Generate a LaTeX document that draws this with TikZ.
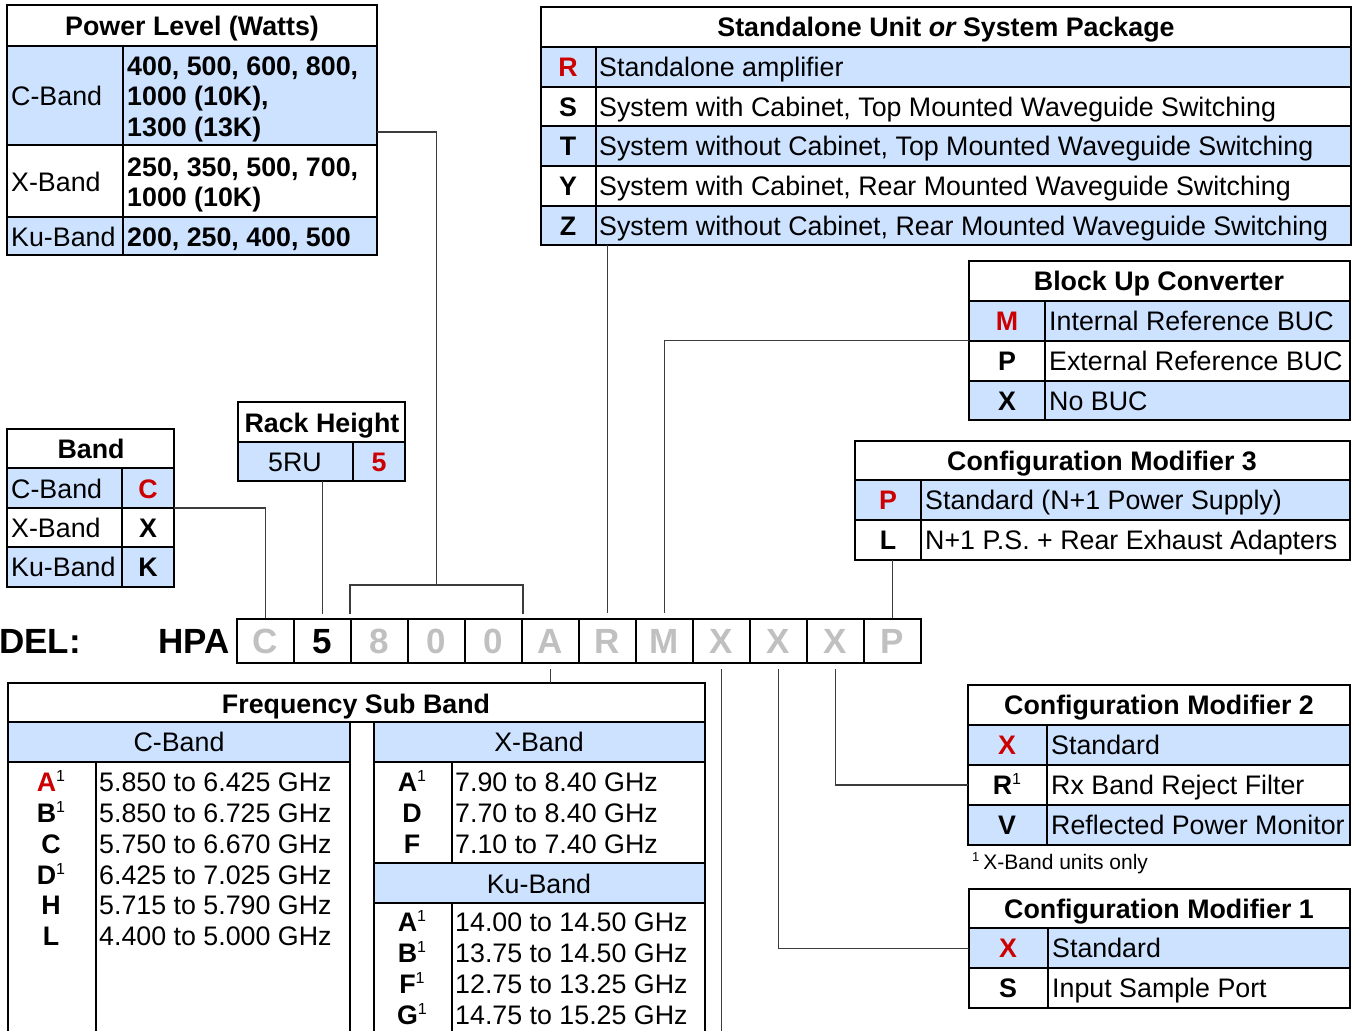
\documentclass[tikz,border=0pt]{standalone}
\usepackage{fontspec}
\setmainfont{Liberation Sans}
\usetikzlibrary{calc}
\definecolor{bl}{RGB}{204,226,255}
\definecolor{rd}{RGB}{204,0,0}
\definecolor{gy}{RGB}{192,192,192}
\definecolor{cn}{RGB}{60,60,60}
\newcommand\fs{\fontsize{26.8}{31}\selectfont}
\newcommand\fsb{\fontsize{35}{40}\selectfont\bfseries}
\newcommand\supo{\raisebox{10pt}{\fontsize{16}{16}\selectfont\mdseries 1}}
\begin{document}
\begin{tikzpicture}[x=1pt,y=-1pt,
  tl/.style={line width=2.2pt, draw=black},
  con/.style={line width=1.5pt, draw=cn},
  frm/.style 2 args={draw=black, line width=2.4pt, anchor=north west, minimum width=#1pt, minimum height=#2pt, inner sep=0pt, outer sep=0pt},
  tx/.style={inner sep=0pt, anchor=base west, font=\fs},
  tc/.style={inner sep=0pt, anchor=base, font=\fs},
  tb/.style={inner sep=0pt, anchor=base, font=\fs\bfseries},
  tbw/.style={inner sep=0pt, anchor=base west, font=\fs\bfseries},
  cell/.style={draw=black, line width=2.2pt, minimum width=57pt, minimum height=44pt, inner sep=0pt, text height=25pt, text depth=0pt, font=\fsb, text=gy}
]
\useasboundingbox (0,0) rectangle (1353,1031);
\clip (0,0) rectangle (1353,1031);

% ---------- Power Level ----------
\fill[bl] (7,46) rectangle (377,145);
\fill[bl] (7,217) rectangle (377,255);
\draw[tl] (7,46) -- (377,46) (7,145) -- (377,145) (7,217) -- (377,217) (123,46) -- (123,255);
\node[frm={370}{250}] (pw) at (7,5) {};
\node[tb] (pwt) at (192,35.5) {Power Level (Watts)};
\node[tx] (pwc) at (11,105.5) {C-Band};
\node[tbw] (pwc1) at (127,75.5) {400, 500, 600, 800,};
\node[tbw] (pwc2) at (127,105.5) {1000 (10K),};
\node[tbw] (pwc3) at (127,136.5) {1300 (13K)};
\node[tx] (pwx) at (11,191.5) {X-Band};
\node[tbw] (pwx1) at (127,176.5) {250, 350, 500, 700,};
\node[tbw] (pwx2) at (127,206.5) {1000 (10K)};
\node[tx] (pwk) at (11,246.5) {Ku-Band};
\node[tbw] (pwk1) at (127,246.5) {200, 250, 400, 500};

% ---------- Band ----------
\fill[bl] (7,468) rectangle (174,508);
\fill[bl] (7,547) rectangle (174,587);
\draw[tl] (7,468) -- (174,468) (7,508) -- (174,508) (7,547) -- (174,547) (122,468) -- (122,587);
\node[frm={167}{158}] (band) at (7,429) {};
\node[tb] (bdt) at (91,458.5) {Band};
\node[tx] (bd1) at (11,498.5) {C-Band};
\node[tb, text=rd] (bd1c) at (148,498.5) {C};
\node[tx] (bd2) at (11,537.5) {X-Band};
\node[tb] (bd2c) at (148,537.5) {X};
\node[tx] (bd3) at (11,576.5) {Ku-Band};
\node[tb] (bd3c) at (148,576.5) {K};

% ---------- Rack Height ----------
\fill[bl] (238,442) rectangle (405,481);
\draw[tl] (238,442) -- (405,442) (353,442) -- (353,481);
\node[frm={167}{79}] (rack) at (238,402) {};
\node[tb] (rkt) at (322,432.5) {Rack Height};
\node[tc] (rk1) at (295,471.5) {5RU};
\node[tb, text=rd] (rk1c) at (379,471.5) {5};

% ---------- Standalone ----------
\fill[bl] (541,47) rectangle (1351,87);
\fill[bl] (541,126) rectangle (1351,166);
\fill[bl] (541,206) rectangle (1351,245);
\draw[tl] (541,47) -- (1351,47) (541,87) -- (1351,87) (541,126) -- (1351,126) (541,166) -- (1351,166) (541,206) -- (1351,206) (596,47) -- (596,245);
\node[frm={810}{238}] (sa) at (541,7) {};
\node[tb] (sat) at (946,36.5) {Standalone Unit {\itshape or} System Package};
\node[tb, text=rd] (saR) at (568,76.5) {R};
\node[tx] (saRd) at (599,76.5) {Standalone amplifier};
\node[tb] (saS) at (568,116) {S};
\node[tx] (saSd) at (599,116) {System with Cabinet, Top Mounted Waveguide Switching};
\node[tb] (saT) at (568,155.5) {T};
\node[tx] (saTd) at (599,155.5) {System without Cabinet, Top Mounted Waveguide Switching};
\node[tb] (saY) at (568,195.5) {Y};
\node[tx] (saYd) at (599,195.5) {System with Cabinet, Rear Mounted Waveguide Switching};
\node[tb] (saZ) at (568,235) {Z};
\node[tx] (saZd) at (599,235) {System without Cabinet, Rear Mounted Waveguide Switching};

% ---------- Block Up Converter ----------
\fill[bl] (969,301) rectangle (1350,341);
\fill[bl] (969,381) rectangle (1350,420);
\draw[tl] (969,301) -- (1350,301) (969,341) -- (1350,341) (969,381) -- (1350,381) (1045,301) -- (1045,420);
\node[frm={381}{159}] (buc) at (969,261) {};
\node[tb] (buct) at (1159,290.5) {Block Up Converter};
\node[tb, text=rd] (bucM) at (1007,330.5) {M};
\node[tx] (bucMd) at (1049,330.5) {Internal Reference BUC};
\node[tb] (bucP) at (1007,370.5) {P};
\node[tx] (bucPd) at (1049,370.5) {External Reference BUC};
\node[tb] (bucX) at (1007,410) {X};
\node[tx] (bucXd) at (1049,410) {No BUC};

% ---------- Configuration Modifier 3 ----------
\fill[bl] (855,480) rectangle (1350,520);
\draw[tl] (855,480) -- (1350,480) (855,520) -- (1350,520) (921,480) -- (921,560);
\node[frm={495}{119}] (cm3) at (855,441) {};
\node[tb] (cm3t) at (1102,470.5) {Configuration Modifier 3};
\node[tb, text=rd] (cm3P) at (888,509.5) {P};
\node[tx] (cm3Pd) at (925,509.5) {Standard (N+1 Power Supply)};
\node[tb] (cm3L) at (888,549.5) {L};
\node[tx] (cm3Ld) at (925,549.5) {N+1 P.S. + Rear Exhaust Adapters};

% ---------- Configuration Modifier 2 ----------
\fill[bl] (968,725) rectangle (1350,765);
\fill[bl] (968,805) rectangle (1350,845);
\draw[tl] (968,725) -- (1350,725) (968,765) -- (1350,765) (968,805) -- (1350,805) (1047,725) -- (1047,845);
\node[frm={382}{160}] (cm2) at (968,685) {};
\node[tb] (cm2t) at (1159,714.5) {Configuration Modifier 2};
\node[tb, text=rd] (cm2X) at (1007,754.5) {X};
\node[tx] (cm2Xd) at (1051,754.5) {Standard};
\node[tb] (cm2R) at (1007,794.5) {R\supo};
\node[tx] (cm2Rd) at (1051,794.5) {Rx Band Reject Filter};
\node[tb] (cm2V) at (1007,834.5) {V};
\node[tx] (cm2Vd) at (1051,834.5) {Reflected Power Monitor};
\node[inner sep=0pt, anchor=base west, font=\fontsize{21}{24}\selectfont] (fn) at (972,869.5) {\raisebox{8pt}{\fontsize{13}{13}\selectfont 1}\hspace{4pt}X-Band units only};

% ---------- Configuration Modifier 1 ----------
\fill[bl] (969,928) rectangle (1350,968);
\draw[tl] (969,928) -- (1350,928) (969,968) -- (1350,968) (1048,928) -- (1048,1008);
\node[frm={381}{119}] (cm1) at (969,889) {};
\node[tb] (cm1t) at (1159,918.5) {Configuration Modifier 1};
\node[tb, text=rd] (cm1X) at (1008,957.5) {X};
\node[tx] (cm1Xd) at (1052,957.5) {Standard};
\node[tb] (cm1S) at (1008,997.5) {S};
\node[tx] (cm1Sd) at (1052,997.5) {Input Sample Port};

% ---------- Frequency Sub Band ----------
\fill[bl] (8,722) rectangle (350,762);
\fill[bl] (374,722) rectangle (705,762);
\fill[bl] (374,863) rectangle (705,903);
\draw[tl] (8,722) rectangle (350,1050) (8,762) -- (350,762) (96,762) -- (96,1050);
\draw[tl] (374,722) rectangle (705,1050) (374,762) -- (705,762) (374,863) -- (705,863) (374,903) -- (705,903) (452,762) -- (452,863) (452,903) -- (452,1050);
\node[frm={697}{39}] (freq) at (8,683) {};
\node[tb] (fqt) at (356,713.5) {Frequency Sub Band};
\node[tc] (fqc) at (179,751.5) {C-Band};
\node[tc] (fqx) at (539,751.5) {X-Band};
\node[tc] (fqk) at (539,893.5) {Ku-Band};
% C-Band rows
\node[tb] (c1) at (51,791.5) {{\color{rd}A}\supo};
\node[tx] (c1d) at (99,791.5) {5.850 to 6.425 GHz};
\node[tb] (c2) at (51,822.5) {B\supo};
\node[tx] (c2d) at (99,822.5) {5.850 to 6.725 GHz};
\node[tb] (c3) at (51,853.5) {C};
\node[tx] (c3d) at (99,853.5) {5.750 to 6.670 GHz};
\node[tb] (c4) at (51,884.5) {D\supo};
\node[tx] (c4d) at (99,884.5) {6.425 to 7.025 GHz};
\node[tb] (c5) at (51,914.5) {H};
\node[tx] (c5d) at (99,914.5) {5.715 to 5.790 GHz};
\node[tb] (c6) at (51,945.5) {L};
\node[tx] (c6d) at (99,945.5) {4.400 to 5.000 GHz};
% X-Band rows
\node[tb] (x1) at (412,791.5) {A\supo};
\node[tx] (x1d) at (455,791.5) {7.90 to 8.40 GHz};
\node[tb] (x2) at (412,822.5) {D};
\node[tx] (x2d) at (455,822.5) {7.70 to 8.40 GHz};
\node[tb] (x3) at (412,853.5) {F};
\node[tx] (x3d) at (455,853.5) {7.10 to 7.40 GHz};
% Ku-Band rows
\node[tb] (k1) at (412,931.5) {A\supo};
\node[tx] (k1d) at (455,931.5) {14.00 to 14.50 GHz};
\node[tb] (k2) at (412,962.5) {B\supo};
\node[tx] (k2d) at (455,962.5) {13.75 to 14.50 GHz};
\node[tb] (k3) at (412,993.5) {F\supo};
\node[tx] (k3d) at (455,993.5) {12.75 to 13.25 GHz};
\node[tb] (k4) at (412,1024.5) {G\supo};
\node[tx] (k4d) at (455,1024.5) {14.75 to 15.25 GHz};

% ---------- Model row ----------
\node[inner sep=0pt, anchor=base east, font=\fsb] (model) at (81,653.5) {MODEL:};
\node[inner sep=0pt, anchor=base east, font=\fsb] (hpa) at (229.5,653.5) {HPA};
\node[cell] (m1) at (265.5,641) {C};
\node[cell, text=black] (m2) at (322.5,641) {5};
\node[cell] (m3) at (379.5,641) {8};
\node[cell] (m4) at (436.5,641) {0};
\node[cell] (m5) at (493.5,641) {0};
\node[cell] (m6) at (550.5,641) {A};
\node[cell] (m7) at (607.5,641) {R};
\node[cell] (m8) at (664.5,641) {M};
\node[cell] (m9) at (721.5,641) {X};
\node[cell] (m10) at (778.5,641) {X};
\node[cell] (m11) at (835.5,641) {X};
\node[cell] (m12) at (892.5,641) {P};

% ---------- Connectors ----------
\coordinate (bandC) at (174,508);
\coordinate (pwo) at (377,132);
\coordinate (brkL) at ($(m3.north west)+(0,-33)$);
\coordinate (brkR) at ($(m5.north east)+(0,-33)$);
\coordinate (brkM) at ($(brkL)!0.5!(brkR)$);
\coordinate (cm2in) at (968,785);
\coordinate (xend) at (721.5,1050);

\draw[con] (bandC) -| (m1.north);
\draw[con] (rack.south -| m2.north) -- ($(m2.north)+(0,-4)$);
\draw[con] (pwo) -| (brkM);
\draw[con] ($(m3.north west)+(0,-4)$) -- (brkL) -- (brkR) -- ($(m5.north east)+(0,-4)$);
\draw[con] (sa.south -| m7.north) -- ($(m7.north)+(0,-5)$);
\draw[con] (buc.west) -| ($(m8.north)+(0,-5)$);
\draw[con] (cm3.south -| m12.north) -- (m12.north);
\draw[con] ($(m6.south)+(0,5)$) -- (m6.south |- freq.north);
\draw[con] ($(m9.south)+(0,5)$) -- (xend);
\draw[con] ($(m10.south)+(0,5)$) |- (cm1.west);
\draw[con] ($(m11.south)+(0,5)$) |- (cm2in);
\end{tikzpicture}
\end{document}
